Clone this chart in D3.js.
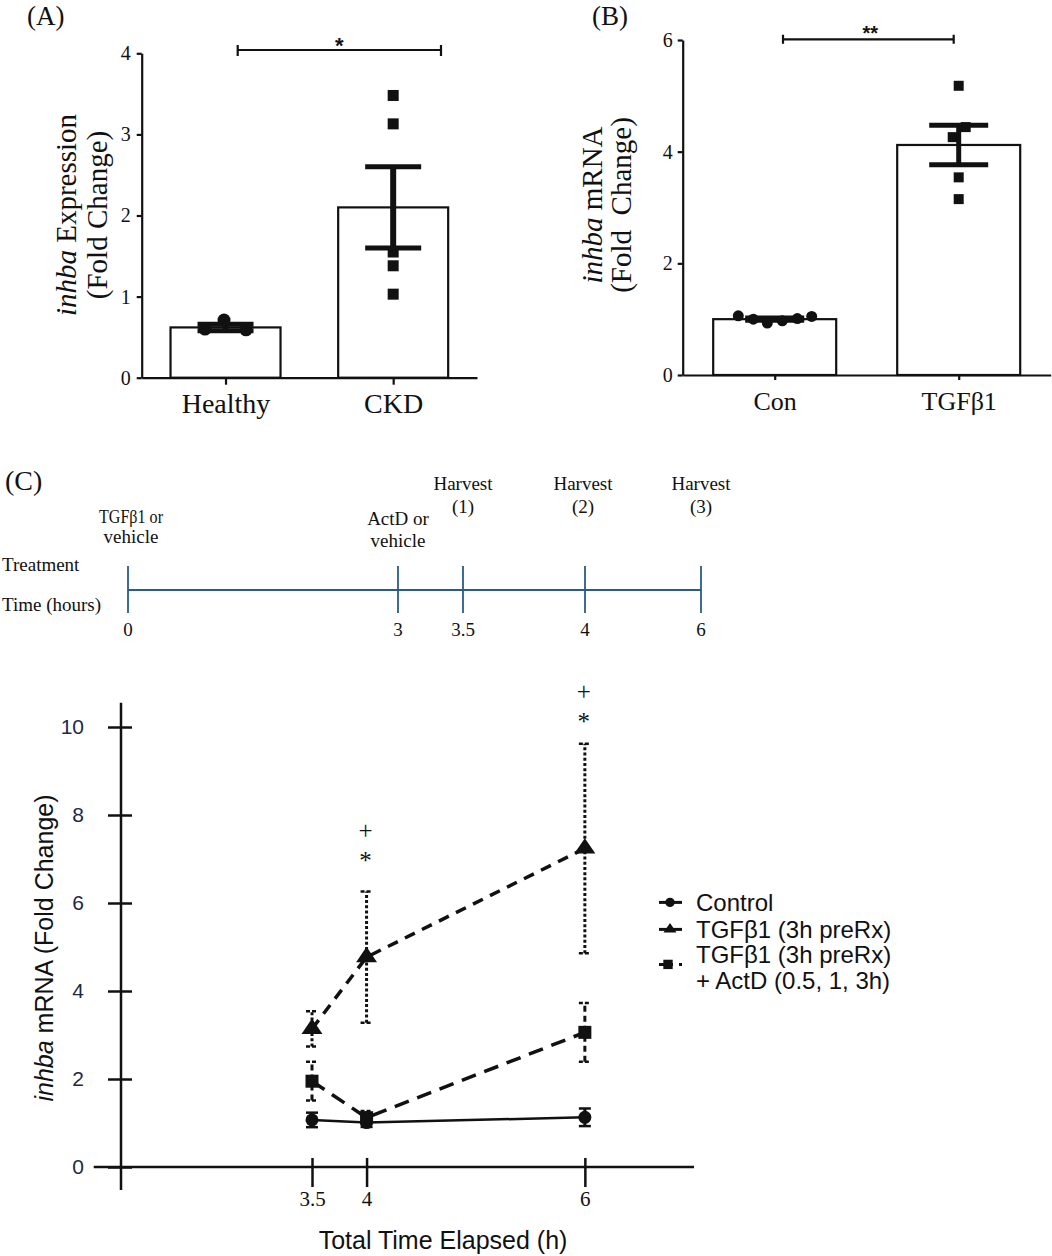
<!DOCTYPE html>
<html><head><meta charset="utf-8">
<script src="https://cdn.jsdelivr.net/npm/d3@7"></script>
<style>body{margin:0;background:#fff} svg{display:block}</style>
</head><body>
<svg id="fig" width="1052" height="1256"></svg>
<script>
// ---------------- DATA ----------------
// Panel A
const groupsA = ["Healthy", "CKD"];
const meanA = [0.62, 2.10];
const semA = [0.04, 0.50];
const healthyPoints = [0.60, 0.71, 0.59];
const ckdPoints = [3.48, 3.13, 1.55, 1.38, 1.03];
const ticksA = [0, 1, 2, 3, 4];
// Panel B
const groupsB = ["Con", "TGFβ1"];
const meanB = [1.00, 4.12];
const semB = [0.02, 0.355];
const conPoints = [1.06, 1.00, 0.93, 0.97, 1.01, 1.05];
const tgfPoints = [5.18, 4.44, 4.26, 3.54, 3.15];
const ticksB = [0, 2, 4, 6];
// Panel C timeline
const timelineHours = [0, 3, 3.5, 4, 6];
const timelineTickLabels = ["0", "3", "3.5", "4", "6"];
const timelineEvents = [["TGFβ1 or", "vehicle"], ["ActD or", "vehicle"], ["Harvest", "(1)"], ["Harvest", "(2)"], ["Harvest", "(3)"]];
const timelineRows = ["Treatment", "Time (hours)"];
// Panel C chart
const timesC = [3.5, 4, 6];
const controlMean = [1.07, 1.01, 1.13];
const controlSem = [0.165, 0.10, 0.20];
const tgfMean = [3.14, 4.77, 7.24];
const tgfSem = [0.40, 1.49, 2.38];
const actdMean = [1.95, 1.12, 3.06];
const actdSem = [0.44, 0.15, 0.67];
const ticksCy = [0, 2, 4, 6, 8, 10];
const ticksCx = [3.5, 4, 6];
const sigTimes = [4, 6];
const sigPlus = [7.64, 10.79];
const sigStar = [7.07, 10.22];
const legendLabels = [["Control"], ["TGFβ1 (3h preRx)"], ["TGFβ1 (3h preRx)", "+ ActD (0.5, 1, 3h)"]];

// ---------------- LAYOUT / STYLE ----------------
const serif = "'Liberation Serif','Times New Roman',serif";
const sans = "'Liberation Sans',Arial,sans-serif";
const ink = "#111";
const svg = d3.select("#fig");

function styleAxis(g, fs, family, sw, color) {
  g.attr("font-size", null).attr("font-family", null);
  g.select(".domain").attr("stroke", ink).attr("stroke-width", sw);
  g.selectAll(".tick line").attr("stroke", ink).attr("stroke-width", sw);
  g.selectAll(".tick text").attr("font-family", family).attr("font-size", fs).attr("fill", color || ink);
}
function yLabel(x1, x2, yc, fs, family, l1rest, l2) {
  const a = svg.append("text").attr("transform", `translate(${x1},${yc}) rotate(-90)`)
    .attr("font-family", family).attr("font-size", fs).attr("fill", ink).attr("text-anchor", "middle");
  a.append("tspan").attr("font-style", "italic").text("inhba");
  a.append("tspan").text(l1rest);
  svg.append("text").attr("transform", `translate(${x2},${yc}) rotate(-90)`)
    .attr("font-family", family).attr("font-size", fs).attr("fill", ink).attr("text-anchor", "middle")
    .style("white-space", "pre").text(l2);
}
function panelLetter(txt, x, y, fs) {
  svg.append("text").attr("x", x).attr("y", y).attr("font-family", serif).attr("font-size", fs)
    .attr("fill", ink).text(txt);
}
function barPanel(cfg) {
  const x = d3.scalePoint().domain(cfg.groups).range([cfg.left, cfg.right]).padding(0.5);
  const y = d3.scaleLinear().domain(cfg.domain).range([cfg.bottom, cfg.top]);
  const g = svg.append("g");
  g.selectAll("rect.bar").data(cfg.groups).join("rect")
    .attr("x", d => x(d) - cfg.barW / 2)
    .attr("y", (d, i) => y(cfg.mean[i]))
    .attr("width", cfg.barW)
    .attr("height", (d, i) => y(0) - y(cfg.mean[i]))
    .attr("fill", "#fff").attr("stroke", ink).attr("stroke-width", 2.2);
  cfg.groups.forEach((grp, gi) => {
    const pts = cfg.points[gi];
    const offs = cfg.offsets[gi];
    if (cfg.shapes[gi] === "circle") {
      g.selectAll(null).data(pts).join("circle")
        .attr("cx", (d, i) => x(grp) + offs[i]).attr("cy", d => y(d))
        .attr("r", cfg.r).attr("fill", ink);
    } else {
      g.selectAll(null).data(pts).join("rect")
        .attr("x", (d, i) => x(grp) + offs[i] - cfg.sq / 2).attr("y", d => y(d) - cfg.sq / 2)
        .attr("width", cfg.sq).attr("height", cfg.sq).attr("fill", ink);
    }
    const m = cfg.mean[gi], s = cfg.sem[gi], cx = x(grp);
    g.append("line").attr("x1", cx).attr("x2", cx).attr("y1", y(m - s)).attr("y2", y(m + s))
      .attr("stroke", ink).attr("stroke-width", cfg.errW);
    [m - s, m + s].forEach(v => {
      g.append("line").attr("x1", cx - cfg.capW / 2).attr("x2", cx + cfg.capW / 2)
        .attr("y1", y(v)).attr("y2", y(v)).attr("stroke", ink).attr("stroke-width", cfg.capSW);
    });
  });
  const ya = g.append("g").attr("transform", `translate(${cfg.left},0)`)
    .call(d3.axisLeft(y).tickValues(cfg.ticks).tickFormat(d3.format("d")).tickSize(5).tickPadding(cfg.yPad).tickSizeOuter(0));
  styleAxis(ya, 20, serif, 2.2);
  const xa = g.append("g").attr("transform", `translate(0,${cfg.bottom})`)
    .call(d3.axisBottom(x).tickSize(cfg.xTick).tickPadding(cfg.xPad).tickSizeOuter(0));
  styleAxis(xa, cfg.xfs, serif, 2.2);
  const b = cfg.bracket;
  g.append("path").attr("d", `M${b.x1},${b.y}H${b.x2}M${b.x1},${b.y - b.h1}V${b.y + b.h2}M${b.x2},${b.y - b.h1}V${b.y + b.h2}`)
    .attr("stroke", ink).attr("stroke-width", 2.2).attr("fill", "none");
  g.append("text").attr("x", (b.x1 + b.x2) / 2 + b.dx).attr("y", b.ty).attr("text-anchor", "middle")
    .attr("font-family", sans).attr("font-weight", "bold").attr("font-size", b.fs).attr("fill", ink).text(b.label);
}

// ---------------- PANEL A ----------------
panelLetter("(A)", 27, 25, 27);
barPanel({
  groups: groupsA, mean: meanA, sem: semA, points: [healthyPoints, ckdPoints],
  offsets: [[-20.5, -1.5, 20.5], [0, 0, 0, 0, 0]], shapes: ["circle", "square"],
  domain: [0, 4], ticks: ticksA, left: 141.7, right: 477, top: 53.3, bottom: 377.7,
  barW: 110, r: 6.5, sq: 11, errW: 6, capW: 56, capSW: 5, yPad: 6, xTick: 7, xPad: 8, xfs: 28,
  bracket: {x1: 237.7, x2: 441, y: 50, h1: 5, h2: 6, label: "*", fs: 22, ty: 53, dx: 0}
});
yLabel(76, 106.5, 215, 29, serif, " Expression", "(Fold Change)");

// ---------------- PANEL B ----------------
panelLetter("(B)", 592, 25, 27);
barPanel({
  groups: groupsB, mean: meanB, sem: semB, points: [conPoints, tgfPoints],
  offsets: [[-36.4, -21.4, -7.4, 7.6, 22.6, 37], [0, 7, -6, 0, 0]], shapes: ["circle", "square"],
  domain: [0, 6], ticks: ticksB, left: 682.7, right: 1050.7, top: 40, bottom: 375,
  barW: 123, r: 5.5, sq: 10, errW: 5, capW: 59, capSW: 5, yPad: 5, xTick: 5, xPad: 12, xfs: 26,
  bracket: {x1: 783, x2: 953.7, y: 39.3, h1: 4.5, h2: 4.5, label: "**", fs: 20, ty: 40, dx: 2}
});
yLabel(602, 631, 205, 29, serif, " mRNA", "(Fold  Change)");

// ---------------- PANEL C : TIMELINE ----------------
panelLetter("(C)", 5, 490, 28);
const tlColor = "#2b5b88";
const tl = d3.scaleLinear().domain(timelineHours).range([128, 398, 463, 585, 701]);
const tlY = 590;
svg.append("line").attr("x1", tl(0)).attr("x2", tl(6)).attr("y1", tlY).attr("y2", tlY)
  .attr("stroke", tlColor).attr("stroke-width", 1.8);
svg.selectAll(null).data(timelineHours).join("line")
  .attr("x1", d => tl(d)).attr("x2", d => tl(d)).attr("y1", tlY - 24).attr("y2", tlY + 23)
  .attr("stroke", tlColor).attr("stroke-width", 1.8);
svg.selectAll(null).data(timelineHours).join("text")
  .attr("x", d => tl(d)).attr("y", 636).attr("text-anchor", "middle")
  .attr("font-family", serif).attr("font-size", 19).attr("fill", ink)
  .text((d, i) => timelineTickLabels[i]);
const eventTop = [523, 525, 490, 490, 490];
const eventGap = [20, 22, 23, 23, 23];
const eventDx = [3, 0, 0, -2, 0];
timelineEvents.forEach((lines, i) => {
  lines.forEach((s, j) => {
    const t = svg.append("text").attr("x", tl(timelineHours[i]) + eventDx[i]).attr("y", eventTop[i] + j * eventGap[i])
      .attr("text-anchor", "middle").attr("font-family", serif).attr("font-size", 19)
      .attr("fill", ink).text(s);
    if (i === 0 && j === 0) t.attr("textLength", 64).attr("lengthAdjust", "spacingAndGlyphs");
  });
});
timelineRows.forEach((s, i) => {
  svg.append("text").attr("x", 2).attr("y", [571, 611][i]).attr("font-family", serif)
    .attr("font-size", 19).attr("fill", ink).text(s);
});

// ---------------- PANEL C : CHART ----------------
const xC = d3.scaleLinear().domain([1.75, 7]).range([121, 694]);
const yC = d3.scaleLinear().domain([0, 10]).range([1167, 727]);
const gC = svg.append("g");
gC.append("line").attr("x1", xC(1.5)).attr("x2", xC(7)).attr("y1", yC(0)).attr("y2", yC(0))
  .attr("stroke", ink).attr("stroke-width", 2.5);
gC.append("line").attr("x1", xC(1.75)).attr("x2", xC(1.75)).attr("y1", yC(-0.52)).attr("y2", yC(10.55))
  .attr("stroke", ink).attr("stroke-width", 2.5);
const yCa = gC.append("g").attr("transform", `translate(${xC(1.75)},0)`)
  .call(d3.axisLeft(yC).tickValues(ticksCy).tickSize(13).tickPadding(24));
yCa.select(".domain").remove();
styleAxis(yCa, 21, sans, 2.5, "#1d2a44");
yCa.selectAll(".tick line").attr("x1", 11);
const xCa = gC.append("g").attr("transform", `translate(0,${yC(0)})`)
  .call(d3.axisBottom(xC).tickValues(ticksCx).tickSize(20).tickPadding(4).tickFormat(d3.format("")));
xCa.select(".domain").remove();
styleAxis(xCa, 21, serif, 2.5);
xCa.selectAll(".tick line").attr("y1", -9);

const series = [
  {mean: controlMean, sem: controlSem, sym: "circle", line: null, err: null},
  {mean: tgfMean, sem: tgfSem, sym: "triangle", line: "11,8", err: "3,2.2"},
  {mean: actdMean, sem: actdSem, sym: "square", line: "15,9", err: "6,4"}
];
const capW = 12;
series.forEach(s => {
  timesC.forEach((t, i) => {
    const cx = xC(t), lo = yC(s.mean[i] - s.sem[i]), hi = yC(s.mean[i] + s.sem[i]);
    gC.append("line").attr("x1", cx).attr("x2", cx).attr("y1", lo).attr("y2", hi)
      .attr("stroke", ink).attr("stroke-width", 3).attr("stroke-dasharray", s.err);
    [lo, hi].forEach(yy => gC.append("line").attr("x1", cx - capW / 2).attr("x2", cx + capW / 2)
      .attr("y1", yy).attr("y2", yy).attr("stroke", ink).attr("stroke-width", 2.5)
      .attr("stroke-dasharray", s.err ? "4,2" : null));
  });
});
const lineGen = d3.line().x(d => xC(d[0])).y(d => yC(d[1]));
series.forEach((s, k) => {
  gC.append("path").datum(timesC.map((t, i) => [t, s.mean[i]])).attr("d", lineGen)
    .attr("fill", "none").attr("stroke", ink).attr("stroke-width", k === 0 ? 2.5 : 3.5)
    .attr("stroke-dasharray", s.line);
});
function marker(g, sym, cx, cy, scale) {
  if (sym === "circle") {
    g.append("circle").attr("cx", cx).attr("cy", cy).attr("r", 6.5 * scale).attr("fill", ink);
  } else if (sym === "square") {
    const a = 13 * scale;
    g.append("rect").attr("x", cx - a / 2).attr("y", cy - a / 2).attr("width", a).attr("height", a).attr("fill", ink);
  } else {
    g.append("path").attr("d", d3.symbol(d3.symbolTriangle, 190)())
      .attr("transform", `translate(${cx},${cy}) scale(${scale},${0.85 * scale})`).attr("fill", ink);
  }
}
series.forEach(s => timesC.forEach((t, i) => marker(gC, s.sym, xC(t), yC(s.mean[i]), 1)));
sigTimes.forEach((t, i) => {
  gC.append("text").attr("x", xC(t) - 1).attr("y", yC(sigPlus[i]) + 8).attr("text-anchor", "middle")
    .attr("font-family", serif).attr("font-size", 25).attr("fill", ink).text("+");
  gC.append("text").attr("x", xC(t) - 1).attr("y", yC(sigStar[i]) + 13).attr("text-anchor", "middle")
    .attr("font-family", serif).attr("font-size", 25).attr("fill", ink).text("*");
});
gC.append("text").attr("x", 443).attr("y", 1249).attr("text-anchor", "middle")
  .attr("font-family", sans).attr("font-size", 25).attr("fill", ink).text("Total Time Elapsed (h)");
const yt = gC.append("text").attr("transform", "translate(53,948) rotate(-90)").attr("text-anchor", "middle")
  .attr("font-family", sans).attr("font-size", 25).attr("fill", ink);
yt.append("tspan").attr("font-style", "italic").text("inhba");
yt.append("tspan").text(" mRNA (Fold Change)");

// legend
const legBase = [[911], [938], [963, 989]];
const legX = 696, symX = 670;
legendLabels.forEach((lines, k) => {
  lines.forEach((s, j) => {
    gC.append("text").attr("x", legX).attr("y", legBase[k][j]).attr("font-family", sans)
      .attr("font-size", 24).attr("fill", ink).text(s);
  });
  const my = d3.mean(legBase[k]) - 8.6 - (k === 2 ? 3 : 0);
  gC.append("line").attr("x1", symX - 11).attr("x2", symX + 12).attr("y1", my).attr("y2", my)
    .attr("stroke", ink).attr("stroke-width", 3).attr("stroke-dasharray", k === 2 ? "14,6,3" : null);
  marker(gC, series[k].sym, symX - (k === 2 ? 2 : 0), my, k === 1 ? 0.62 : 0.72);
});
</script>
</body></html>
